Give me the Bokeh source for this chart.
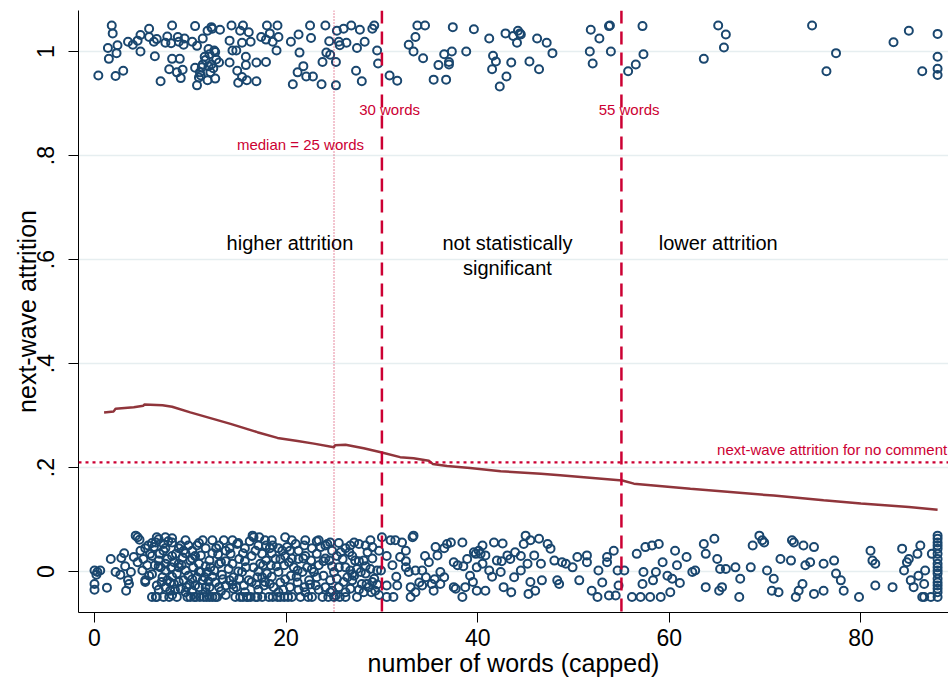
from bokeh.plotting import figure
from bokeh.models import Span, Range1d, FixedTicker, CustomJSTickFormatter, ColumnDataSource
from bokeh.core.properties import value
from bokeh.embed import file_html
from bokeh.resources import INLINE

# ---------------- data ----------------
# respondents with next-wave attrition = 1 (jittered vertically)
top_points = [
    (0.4,.954),(1.8,1.05),(1.9,1.035),(1.4,1.007),(1.5,.986),(2.2,.953),(2.3,.997),(2.4,1.012),(3.0,.963),(3.5,1.019),
    (4.0,1.013),(4.5,1.021),(4.8,1.032),(4.8,1.0),(5.7,1.044),(5.7,1.028),(6.2,1.019),(6.3,.991),(6.5,1.024),(6.9,.943),
    (7.4,1.017),(7.6,1.029),(7.8,.966),(8.1,1.05),(8.0,1.016),(8.1,.986),(8.6,.96),(8.7,1.028),(8.8,1.019),(8.9,.986),
    (9.0,.949),(9.2,.965),(9.3,1.013),(9.4,1.025),(10.2,1.019),(10.5,1.049),(10.5,.969),(10.7,1.011),(10.7,.935),(11.0,.96),
    (11.1,.954),(11.3,1.025),(11.3,.975),(11.6,.984),(11.8,1.04),(11.8,.945),(11.9,.972),(12.0,.995),(12.1,.96),(12.2,1.047),
    (12.3,1.044),(12.5,1.002),(12.6,.948),(12.6,.999),(13.0,.979),(13.1,1.042),(14.1,.979),(14.1,1.021),(14.3,1.05),(14.4,1.002),
    (14.8,1.002),(15.0,.94),(14.9,.963),(15.5,1.05),(15.2,1.04),(15.4,1.017),(15.4,.951),(15.8,.99),(15.8,.974),(15.9,.945),
    (16.1,1.037),(16.3,1.019),(16.9,.943),(16.9,.979),(17.4,1.028),(17.9,.98),(17.9,1.023),(18.0,1.05),(18.3,1.035),(18.6,1.019),
    (19.1,1.05),(19.2,1.028),(19.0,1.002),(20.5,1.019),(20.7,.937),(21.2,.96),(21.3,1.033),(21.4,.998),(21.8,.972),(22.1,.952),
    (22.5,1.05),(22.6,1.026),(22.8,.952),(23.7,.937),(23.8,.98),(24.1,1.05),(24.2,.998),(24.5,1.02),(24.6,.994),(25.2,.98),
    (25.2,.935),(25.3,1.04),(25.5,1.019),(25.6,1.012),(26.0,1.044),(26.3,1.017),(26.8,1.05),(27.3,.963),(27.4,1.007),(27.7,1.042),
    (27.9,.943),(28.2,1.019),(29.0,1.044),(29.2,1.05),(29.5,1.002),(29.6,.977),(30.8,.954),(31.6,.944),(32.8,1.013),(33.3,1.0),
    (33.5,1.028),(33.7,1.05),(34.3,.987),(34.5,1.05),(35.4,.946),(35.9,.974),(36.5,.995),(36.7,.946),(37.0,.975),(37.3,1.0),
    (37.4,1.047),(38.8,1.0),(39.6,1.043),(41.2,1.025),(41.6,.992),(41.9,.981),(41.5,.966),(42.3,.933),(42.9,1.035),(43.0,.952),
    (43.5,.979),(43.7,1.03),(44.1,1.017),(44.2,1.04),(44.4,1.035),(44.5,1.033),(45.4,.981),(46.2,1.025),(46.4,.966),(47.2,1.017),
    (47.8,.997),(51.7,1.0),(51.8,1.042),(52.0,.977),(52.7,1.025),(53.7,1.049),(53.8,1.05),(53.9,1.0),(55.7,.962),(56.5,.975),
    (57.2,1.049),(57.3,.995),(63.6,.986),(65.1,1.05),(65.9,1.033),(65.7,1.008),(74.9,1.05),(76.4,.962),(77.4,.997),(83.4,1.018),
    (85.0,1.04),(88.0,1.034),(88.0,.99),(88.0,.967),(88.0,.955),(86.4,.962),
    (11.5,.99),(12.2,.975),(11.9,1.005),(12.4,.968),(11.2,.97),(12.7,.985),(10.9,.95),(37.0,.98),
]

# respondents with next-wave attrition = 0 (jittered vertically)
bottom_points = [
    (0.0,.002),(0.3,-.001),(0.6,.002),(0.0,-.024),(0.0,-.035),(1.3,-.031),(0.2,-.006),
    (1.7,.024),(2.2,-.001),(2.7,-.006),(2.8,.026),(3.1,.035),(3.2,.01),(3.3,-.037),(3.5,-.017),(3.6,-.024),(3.8,-.001),
    (4.1,.028),(4.3,.069),(4.5,.066),(4.7,.061),(4.5,.018),(5.0,.002),(5.1,.024),(5.3,-.017),(5.5,.012),(5.7,-.008),(5.8,.034),(6.0,-.049),
    (6.2,.047),(6.4,.056),(6.5,.066),(6.7,.021),(6.9,.008),(6.5,-.027),(6.4,-.049),(7.1,-.011),(7.2,.04),(7.4,.066),
    (7.6,.024),(7.8,-.049),(7.9,-.037),(7.6,-.017),(8.0,.008),(7.4,.002),(6.8,.034),(7.2,.053),(6.5,-.049),(7.9,-.021),
    (8.1,.056),(8.3,.018),(8.5,.034),(8.6,-.004),(8.8,.008),(9.0,.05),(9.2,.027),(9.3,-.017),(9.5,.002),(9.7,-.049),
    (9.8,.05),(10.0,.021),(8.3,-.024),(9.0,-.033),(9.6,-.03),(9.8,-.008),(9.3,.04),
    (10.0,-.049),(10.2,-.037),(10.4,-.049),(10.5,-.027),(10.7,.05),(10.9,.015),(11.1,-.001),(11.3,-.017),(11.4,-.049),(11.6,-.03),
    (11.8,-.001),(12.0,.021),(10.3,.008),(10.7,-.011),(11.1,.031),(11.5,-.011),(11.9,-.019),(11.7,-.049),(12.0,-.049),
    (12.3,-.049),(12.8,-.049),(12.1,.008),(12.5,.002),(12.9,.033),(13.2,.018),(13.3,-.006),(13.5,.06),(13.7,-.027),(14.0,.005),(12.6,-.021),(13.2,-.038),
    (14.2,.034),(14.4,.015),(14.5,-.011),(14.7,-.049),(14.9,.053),(15.1,.024),(15.2,-.049),(15.4,-.001),(15.6,-.027),(15.8,.008),(15.9,-.049),(14.1,-.017),(14.5,-.033),(15.1,-.014),
    (16.3,-.049),(16.5,.069),(16.6,.066),(16.8,.04),(17.0,-.049),(17.2,.066),(17.3,.015),(17.5,-.011),(17.7,-.027),(17.9,.021),(16.6,.008),(17.0,-.011),(17.5,.034),(17.9,.05),(16.1,-.017),
    (18.0,-.004),(18.2,-.049),(18.4,.012),(18.6,.05),(18.7,-.03),(18.9,.024),(19.1,-.049),(19.2,-.001),(19.4,-.021),(19.6,.04),(19.8,.012),(19.9,.066),(18.3,-.024),(19.4,.024),(19.8,-.049),
    (20.1,.047),(20.3,.018),(20.5,-.008),(20.6,-.049),(20.8,.008),(21.0,.053),(21.2,-.021),(21.3,.024),(21.5,-.049),(21.7,-.001),(21.9,.05),(21.9,-.03),(20.4,-.03),(21.2,.002),
    (22.2,.008),(22.4,-.017),(22.6,.021),(22.7,-.049),(22.9,-.001),(23.1,-.027),(23.2,.034),(23.4,.012),(23.6,.047),(23.8,-.049),(23.9,-.008),(23.2,-.011),
    (24.1,.05),(24.3,.053),(24.5,.021),(24.6,.056),(24.8,-.037),(25.0,-.049),(25.2,-.046),(25.3,-.014),(25.5,.008),(25.7,.037),(25.9,.024),(25.0,-.001),(24.6,-.017),
    (26.2,.008),(26.4,-.011),(26.6,.037),(26.7,.002),(26.9,-.017),(27.1,.056),(27.2,.021),(27.4,-.049),(27.6,.053),(27.8,-.001),(27.9,-.024),(26.7,-.033),(27.1,-.008),
    (28.1,.021),(28.3,-.004),(28.5,.037),(28.6,-.03),(28.8,.005),(29.0,.047),(29.2,-.014),(29.3,-.037),(29.5,.002),(29.9,.002),(28.4,-.024),(28.9,-.04),
    (5.3,.045),(5.3,-.02),(6.0,.03),(6.0,-.005),(6.0,.055),(6.7,.062),(6.7,.01),(6.7,-.035),(7.4,.045),(7.4,-.03),(7.4,.015),
    (8.1,.03),(8.1,-.01),(8.1,.064),(8.1,-.045),(8.8,.045),(8.8,-.02),(8.8,.015),(9.5,.035),(9.5,-.04),(9.5,.06),
    (10.2,.04),(10.2,.025),(10.2,-.015),(10.9,.055),(10.9,-.03),(10.9,.0),(11.6,.045),(11.6,.01),(11.6,-.04),
    (12.3,.06),(12.3,.035),(12.3,-.01),(13.0,.05),(13.0,-.03),(13.0,.015),(13.7,.04),(13.7,-.045),(13.7,.02),(14.4,.06),(14.4,-.025),
    (15.0,.055),(15.0,.0),(15.7,.045),(15.7,-.04),(15.7,.02),(16.4,.03),(16.4,-.02),(17.1,.05),(17.1,.0),(17.1,-.035),
    (17.8,-.02),(17.8,.06),(18.5,.035),(18.5,-.01),(18.5,.06),(19.2,.045),(19.2,-.04),(19.9,.03),(19.9,-.015),(20.6,.06),(20.6,.025),
    (21.3,-.035),(21.3,.04),(22.0,.03),(22.0,-.04),(22.0,.06),(22.7,.045),(22.7,.005),(23.4,-.035),(23.4,.06),(24.1,.025),(24.1,-.03),
    (24.8,.04),(24.8,.01),(25.5,.055),(25.5,-.03),(26.2,.045),(26.2,-.04),(26.9,.03),(26.9,-.005),(27.6,.02),(27.6,-.035),
    (28.3,.05),(28.3,.01),(29.0,.025),(29.0,-.02),(29.7,.04),(29.7,-.045),
    (10.6,-.049),(11.0,-.049),(12.6,-.049),(15.5,-.049),(16.0,-.049),(16.8,-.049),(17.5,-.049),(18.6,-.049),(19.4,-.049),
    (20.2,-.049),(22.3,-.049),(24.4,-.049),(25.6,-.049),(26.2,-.049),(7.2,-.049),(8.6,-.049),
    (4.8,.04),(5.6,.05),(6.3,.012),(7.0,-.02),(7.7,.058),(8.4,-.035),(9.1,.012),(9.9,-.025),(10.5,.03),(11.3,.06),
    (12.0,-.03),(12.7,.045),(13.4,-.015),(14.1,.045),(14.8,-.03),(15.5,.035),(16.2,.058),(16.9,-.025),(17.6,.012),(18.3,.045),
    (19.0,.01),(19.7,-.035),(20.4,.04),(21.1,-.01),(21.8,.025),(22.5,-.025),(23.2,.058),(23.9,.02),(24.6,-.04),(25.3,.03),
    (26.0,-.02),(26.7,.05),(27.4,.005),(28.1,-.04),(28.8,.06),(29.5,-.025),
    (30.0,.066),(30.5,-.027),(30.9,.06),(31.2,-.049),(31.4,.06),(31.6,-.027),(31.9,.028),(32.1,.056),(32.5,.04),(32.8,-.001),
    (33.0,-.03),(33.2,.066),(33.3,.069),(33.5,.002),(33.9,-.021),(34.2,.002),(34.6,-.011),(34.9,.018),(35.2,-.024),(35.6,.047),
    (35.8,.031),(36.1,-.001),(36.5,-.011),(36.8,.053),(37.2,.056),(37.5,.018),(37.9,.012),(38.4,.056),(38.4,-.049),(38.7,-.03),
    (38.9,.024),(39.2,-.008),(39.6,.037),(39.9,.008),(40.3,.034),(30.5,-.049),(31.1,.012),(32.5,.008),(33.0,-.049),(34.2,-.027),
    (35.4,-.037),(36.1,-.024),(37.7,-.033),
    (30.5,.03),(31.5,-.01),(32.5,.02),(33.5,-.04),(34.5,.03),(35.5,-.015),(36.5,.045),(37.5,-.03),(38.5,.01),(39.5,-.02),
    (40.5,.05),(41.5,-.01),(42.5,.02),(43.5,-.04),(44.5,.03),(45.5,-.02),
    (39.8,.034),(40.1,.04),(40.5,.015),(40.8,.031),(41.2,.002),(39.9,-.037),(40.8,-.037),(41.7,.056),(42.6,.054),(42.0,.021),
    (42.4,-.001),(42.7,-.03),(43.1,.031),(43.4,.024),(43.8,-.011),(43.9,.037),(44.5,.002),(44.8,.053),(45.0,.069),(45.2,.015),
    (45.3,-.043),(45.5,.06),(45.9,.031),(46.0,-.037),(46.4,.063),(46.6,.015),(46.7,-.017),(47.3,.053),(47.6,.044),(48.0,.021),
    (48.3,-.017),(48.5,-.024),(48.8,.018),(49.2,.015),(49.9,.008),(50.4,.028),(50.6,-.017),(51.4,.031),(51.4,.018),(51.9,-.037),
    (52.5,-.049),(52.6,.002),(53.0,-.021),(53.5,.028),(53.5,.018),(53.7,-.046),(54.2,.04),(54.4,-.046),(54.6,.002),(54.7,-.027),
    (55.3,.002),(56.1,-.049),(56.6,.034),(57.0,-.049),(57.2,-.024),(57.3,-.001),(57.5,.047),(58.0,-.049),(58.2,.05),(58.3,-.017),
    (58.6,-.001),(58.9,.053),(59.1,-.049),(59.3,.018),(59.8,-.008),(60.1,-.04),(60.3,-.014),(60.6,.04),(60.8,.012),(61.1,-.022),
    (61.8,.028),(62.4,-.001),(62.7,.002),(63.6,.053),(63.8,.034),(63.8,-.03),(64.7,.063),(65.0,.024),(65.2,-.037),(65.3,.005),
    (65.5,-.03),(65.9,.005),(66.9,.008),(67.3,-.049),(67.4,-.014),(68.5,.008),(68.7,.05),(69.4,.069),(69.7,.06),(69.9,.056),
    (70.2,.002),(70.7,-.037),(70.9,-.014),(71.4,-.04),(71.6,.024),(72.7,.021),(72.8,.06),(73.0,.056),(73.2,-.049),(73.5,-.037),
    (73.9,-.024),(74.0,.05),(74.2,.012),(74.7,.018),(75.1,.047),(75.1,-.043),(76.1,.015),(76.1,-.037),(77.2,.021),(77.4,-.004),
    (77.9,-.017),(78.2,-.037),(79.8,-.049),(81.0,.04),(81.2,.021),(81.5,.015),(81.5,-.027),(83.3,-.03),(84.3,.044),(84.5,.002),
    (84.8,.018),(85.0,.024),(85.2,-.017),(85.5,-.03),(85.9,.034),(86.0,-.008),(86.2,.05),(86.4,-.049),(86.6,-.024),(86.7,.002),
    (87.4,.034),(87.3,-.049),(86.6,-.049),
    (88.0,.069),(88.0,.063),(88.0,.056),(88.0,.05),(88.0,.044),(88.0,.034),(88.0,.024),(88.0,.015),(88.0,.008),(88.0,.002),
    (88.0,-.004),(88.0,-.014),(88.0,-.021),(88.0,-.027),(88.0,-.033),(88.0,-.04),(88.0,-.049),
]

# smoothed attrition by number of words
curve_x = [1.0, 2.0, 2.2, 4.1, 5.1, 5.2, 7.1, 8.1, 10.0, 12.1, 14.2, 17.0, 19.1, 21.2, 22.9, 25.0, 25.1, 26.2,
           28.1, 30.0, 31.9, 33.3, 34.9, 35.3, 36.8, 39.2, 42.4, 46.6, 48.6, 55.1, 56.3, 62.2, 70.9, 76.1, 80.0, 85.0, 88.0]
curve_y = [.306, .308, .313, .316, .319, .321, .320, .317, .306, .295, .284, .268, .257, .251, .246, .239, .243, .244,
           .237, .229, .220, .218, .213, .207, .203, .199, .193, .188, .185, .175, .169, .159, .146, .137, .131, .124, .119]

thresholds = [30, 55]
threshold_labels = ["30 words", "55 words"]
median_words = 25
no_comment_rate = 0.21
region_labels = ["higher attrition", "not statistically", "significant", "lower attrition"]
y_ticks = [0, 0.2, 0.4, 0.6, 0.8, 1.0]
x_ticks = [0, 20, 40, 60, 80]

# ---------------- styles ----------------
FONT = "Liberation Sans"
NAVY = "#1a476f"
MAROON = "#90353b"
RED = "#cc0033"

top_x = [p_[0] for p_ in top_points]
top_y = [p_[1] for p_ in top_points]
bot_x = [p_[0] for p_ in bottom_points]
bot_y = [p_[1] for p_ in bottom_points]

p = figure(frame_width=870, frame_height=602,
           x_range=Range1d(-1.67, 89.14), y_range=Range1d(-0.0788, 1.079),
           output_backend="svg", toolbar_location=None,
           min_border_left=78, min_border_right=0, min_border_top=10, min_border_bottom=69)
p.outline_line_color = None
p.background_fill_color = "white"
p.border_fill_color = "white"

# grid
p.xgrid.visible = False
p.ygrid.ticker = FixedTicker(ticks=y_ticks)
p.ygrid.grid_line_color = "#e6eef0"
p.ygrid.grid_line_width = 1.5

# axes
for ax in (p.xaxis[0], p.yaxis[0]):
    ax.axis_line_color = "black"
    ax.axis_line_width = 1
    ax.major_tick_line_color = "black"
    ax.major_tick_out = 10
    ax.major_tick_in = 0
    ax.minor_tick_line_color = None
    ax.major_label_text_font = FONT
    ax.major_label_text_font_size = "23px"
    ax.major_label_text_color = "black"
    ax.axis_label_text_font = FONT
    ax.axis_label_text_font_size = "25px"
    ax.axis_label_text_font_style = "normal"
    ax.axis_label_text_color = "black"

p.xaxis.ticker = FixedTicker(ticks=x_ticks)
p.xaxis.axis_label = "number of words (capped)"
p.xaxis.major_label_standoff = 6
p.xaxis.axis_label_standoff = 0

p.yaxis.ticker = FixedTicker(ticks=y_ticks)
p.yaxis.formatter = CustomJSTickFormatter(code="""
    if (Math.abs(tick) < 1e-9) return '0';
    if (Math.abs(tick - 1) < 1e-9) return '1';
    return tick.toFixed(1).replace(/^0/, '');
""")
p.yaxis.major_label_orientation = "vertical"
p.yaxis.axis_label = "next-wave attrition"
p.yaxis.major_label_standoff = 14
p.yaxis.axis_label_standoff = -6

# reference lines
for t in thresholds:
    p.add_layout(Span(location=t, dimension="height", line_color=RED, line_width=2.5, line_dash="13 8"))
p.add_layout(Span(location=median_words, dimension="height", line_color=RED, line_alpha=0.7,
                  line_width=1.3, line_dash="1 2"))
p.add_layout(Span(location=no_comment_rate, dimension="width", line_color=RED, line_width=2.2, line_dash="3 4"))

# scatter points
p.scatter(top_x, top_y, marker="circle", size=8, fill_color=None, line_color=NAVY, line_width=2)
p.scatter(bot_x, bot_y, marker="circle", size=8, fill_color=None, line_color=NAVY, line_width=2)

# fitted curve
p.line(curve_x, curve_y, line_color=MAROON, line_width=2.5)

# red annotations
red_src = ColumnDataSource(dict(
    x=[thresholds[0] + 0.8, thresholds[1] + 0.8, median_words - 3.5, 89.0],
    y=[0.888, 0.888, 0.821, 0.235],
    t=[threshold_labels[0], threshold_labels[1], "median = %d words" % median_words,
       "next-wave attrition for no comment"],
    a=["center", "center", "center", "right"],
))
p.text(x="x", y="y", text="t", text_align="a", source=red_src, text_baseline="middle",
       text_font=value(FONT), text_font_size="15px", text_color=RED)

# region annotations
reg_src = ColumnDataSource(dict(
    x=[20.4, 43.1, 43.1, 65.1],
    y=[0.631, 0.631, 0.583, 0.631],
    t=region_labels,
))
p.text(x="x", y="y", text="t", source=reg_src, text_align="center", text_baseline="middle",
       text_font=value(FONT), text_font_size="20px", text_color="black")

open("out.html", "w").write(file_html(p, INLINE))
